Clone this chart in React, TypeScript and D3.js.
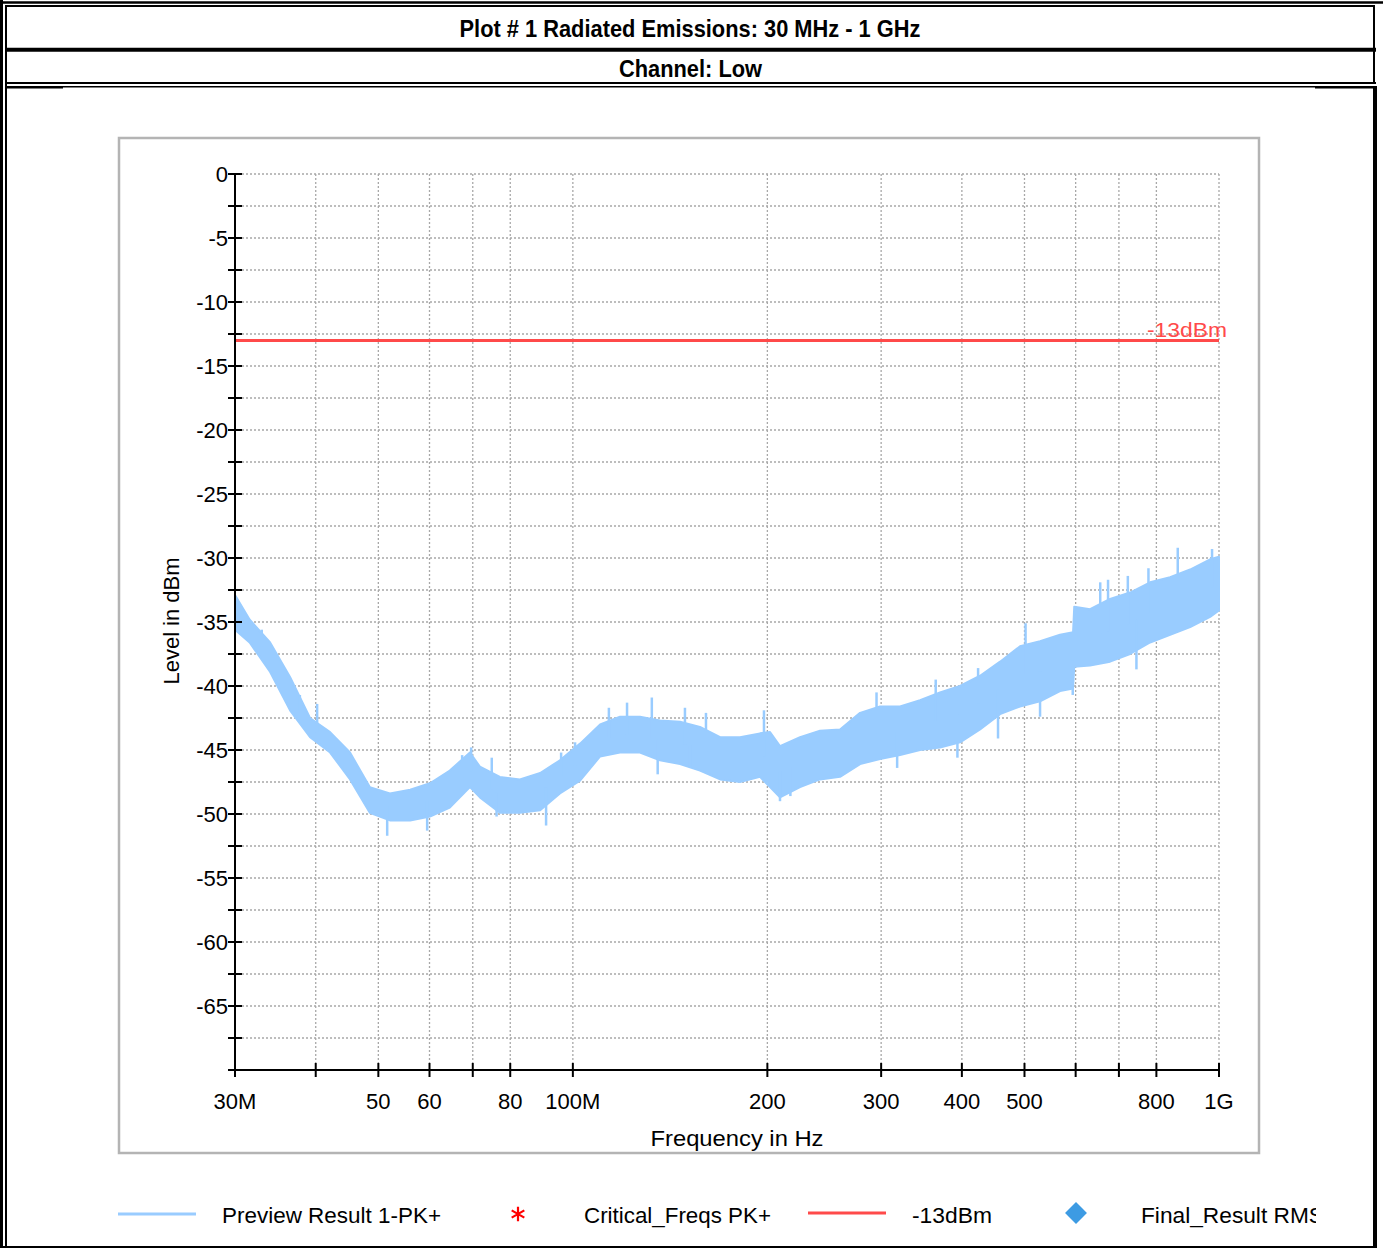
import React from "react";
import * as d3 from "d3";

// envelope of the Preview Result 1-PK+ trace
const freqMHz = [30, 31.6, 34, 36.5, 39.2, 42.1, 45.2, 48.5, 52.1, 56, 60.1, 64.5, 69.3, 71.8, 77.1, 82.8, 89, 95.5, 102.6, 110.2, 118.3, 127, 136.4, 146.5, 157.3, 169, 181.4, 194.8, 201.9, 209.2, 224.7, 241.3, 259.1, 278.3, 298.8, 320.9, 344.6, 370, 397.4, 426.8, 458.3, 492.1, 528.5, 567.5, 594.5, 597, 631.6, 678.3, 728.4, 782.3, 840.1, 902.2, 968.8, 1000];
const upperDbm = [-32.9, -34.8, -36.6, -39.3, -42.5, -43.6, -45.2, -47.9, -48.4, -48.1, -47.6, -46.6, -45.2, -46.3, -47.1, -47.3, -46.8, -45.8, -44.5, -43, -42.4, -42.4, -42.7, -42.8, -43.2, -44, -44, -43.7, -43.6, -44.7, -44, -43.5, -43.4, -42.1, -41.6, -41.6, -41.1, -40.5, -40, -39.2, -38.1, -36.9, -36.5, -36, -35.8, -33.8, -34, -33.2, -32.7, -31.9, -31.5, -30.9, -30.1, -29.9];
const lowerDbm = [-35.6, -36.6, -38.9, -41.9, -44, -45.2, -47.3, -49.9, -50.5, -50.5, -50.2, -49.5, -47.9, -48.7, -49.9, -49.9, -49.7, -48.4, -47.4, -45.5, -45.2, -45.2, -45.8, -46.1, -46.6, -47.3, -47.5, -47.1, -47.9, -48.7, -47.9, -47.3, -47.1, -46.1, -45.7, -45.4, -45, -44.8, -44.4, -43.4, -42.2, -41.6, -41.2, -40.4, -40.2, -38.5, -38.4, -38.1, -37.5, -36.6, -36, -35.4, -34.6, -34.1];

// single peaks sticking out of the band
const spikeMHz = [33, 37.8, 40.2, 51.6, 59.5, 67.4, 69.6, 74.9, 76.2, 90.9, 95.9, 100.8, 113.7, 121.3, 132.5, 135.3, 149.1, 151.8, 160.7, 197.6, 209.2, 217.1, 295.1, 317.6, 364.4, 393.7, 423.8, 455, 501.9, 528.5, 593.8, 654.9, 673.4, 722.6, 745.1, 777.7, 863.3, 975.5];
const spikeDbm = [-35.6, -40.7, -41.4, -51.7, -51.3, -45.4, -44.8, -45.6, -50.2, -50.9, -45.2, -44.4, -41.7, -41.3, -40.9, -46.9, -41.7, -46.3, -42.1, -41.9, -49, -48.6, -40.5, -46.4, -39.5, -45.6, -38.6, -44.1, -35.1, -42.4, -40.7, -31.9, -31.7, -31.4, -38.7, -30.8, -29.2, -29.3];

const limitDbm = -13;

const xTickMHz = [30, 40, 50, 60, 70, 80, 100, 200, 300, 400, 500, 600, 700, 800, 1000];
const xLabelMHz = [30, 50, 60, 80, 100, 200, 300, 400, 500, 800, 1000];
const xLabelText = ["30M", "50", "60", "80", "100M", "200", "300", "400", "500", "800", "1G"];
const yTicks = d3.range(0, -70.1, -2.5);
const yLabels = d3.range(0, -65.1, -5);

const legendNames = ["Preview Result 1-PK+", "Critical_Freqs PK+", "-13dBm", "Final_Result RMS"];

const W = 1383;
const H = 1249;
const font = "'Liberation Sans', Arial, sans-serif";

const App = () => {
  const x = d3.scaleLog().domain([30, 1000]).range([235, 1219]);
  const y = d3.scaleLinear().domain([-70, 0]).range([1070, 174]);

  const band = d3
    .area<number>()
    .x((d, i) => x(freqMHz[i]))
    .y0((d, i) => y(lowerDbm[i]))
    .y1((d, i) => y(upperDbm[i]));

  const mid = d3
    .scaleLog()
    .domain(freqMHz)
    .range(freqMHz.map((f, i) => (upperDbm[i] + lowerDbm[i]) / 2));

  const asterisk = d3.symbol().type(d3.symbolAsterisk).size(150)();
  const square = d3.symbol().type(d3.symbolSquare).size(240)();

  return (
    <svg width={W} height={H} style={{ position: "absolute", left: 0, top: 0, background: "#fff" }}>
      <defs>
        <clipPath id="legclip">
          <rect x={0} y={1180} width={1316} height={60} />
        </clipPath>
      </defs>

      {/* frame */}
      <line x1={0} y1={2.5} x2={W} y2={2.5} stroke="#000" strokeWidth={2.5} />
      <line x1={5} y1={6} x2={1375} y2={6} stroke="#000" strokeWidth={2} />
      <line x1={1.5} y1={0} x2={1.5} y2={1248} stroke="#000" strokeWidth={3} />
      <line x1={6} y1={5} x2={6} y2={1248} stroke="#000" strokeWidth={2} />
      <line x1={1374} y1={5} x2={1374} y2={84} stroke="#000" strokeWidth={2} />
      <line x1={1375} y1={86} x2={1375} y2={1248} stroke="#000" strokeWidth={4} />
      <line x1={5} y1={49.7} x2={1376} y2={49.7} stroke="#000" strokeWidth={4} />
      <line x1={5} y1={83} x2={1376} y2={83} stroke="#000" strokeWidth={2} />
      <line x1={5} y1={86.8} x2={1376} y2={86.8} stroke="#000" strokeWidth={1.5} />
      <line x1={5} y1={87.2} x2={63} y2={87.2} stroke="#000" strokeWidth={2.4} />
      <line x1={1315} y1={87.2} x2={1376} y2={87.2} stroke="#000" strokeWidth={2.4} />
      <line x1={0} y1={1247} x2={1377} y2={1247} stroke="#000" strokeWidth={2} />

      <text x={690} y={37} textAnchor="middle" fontFamily="'Liberation Sans Narrow', 'Arial Narrow', 'Liberation Sans', sans-serif" fontWeight="bold" fontSize={24} textLength={461} lengthAdjust="spacingAndGlyphs">
        Plot # 1 Radiated Emissions: 30 MHz - 1 GHz
      </text>
      <text x={690.5} y={77} textAnchor="middle" fontFamily="'Liberation Sans Narrow', 'Arial Narrow', 'Liberation Sans', sans-serif" fontWeight="bold" fontSize={24} textLength={143} lengthAdjust="spacingAndGlyphs">
        Channel: Low
      </text>

      {/* chart panel */}
      <rect x={119} y={138} width={1140} height={1015} fill="#fff" stroke="#b4b4b4" strokeWidth={2.5} />

      {/* grid */}
      <g stroke="#a8a8a8" strokeWidth={1.3} strokeDasharray="2,2">
        {yTicks.slice(0, -1).map(t => (
          <line key={"gy" + t} x1={242} x2={1219} y1={y(t)} y2={y(t)} />
        ))}
        {xTickMHz.slice(1).map(f => (
          <line key={"gx" + f} x1={x(f)} x2={x(f)} y1={174} y2={1063} />
        ))}
      </g>

      {/* trace */}
      <path d={band(freqMHz) || ""} fill="#99ccff" stroke="#99ccff" strokeWidth={2} strokeLinejoin="round" />
      <g stroke="#99ccff" strokeWidth={2.5}>
        {spikeMHz.map((f, i) => (
          <line key={"sp" + i} x1={x(f)} x2={x(f)} y1={y(mid(f))} y2={y(spikeDbm[i])} />
        ))}
      </g>

      {/* limit */}
      <line x1={x(30)} x2={x(1000)} y1={y(limitDbm)} y2={y(limitDbm)} stroke="#ff4a4a" strokeWidth={3} />
      <text x={1227} y={y(limitDbm) - 3} textAnchor="end" fontFamily={font} fontSize={21} fill="#ff4a4a" textLength={80} lengthAdjust="spacingAndGlyphs">
        -13dBm
      </text>

      {/* axes */}
      <g stroke="#000" strokeWidth={2}>
        <line x1={235} x2={235} y1={173} y2={1071} />
        <line x1={234} x2={1220} y1={1070} y2={1070} />
        {yTicks.map(t => (
          <line key={"ty" + t} x1={228} x2={242} y1={y(t)} y2={y(t)} />
        ))}
        {xTickMHz.map(f => (
          <line key={"tx" + f} x1={x(f)} x2={x(f)} y1={1063} y2={1077} />
        ))}
      </g>
      <g fontFamily={font} fontSize={22} fill="#000">
        {yLabels.map(t => (
          <text key={"ly" + t} x={228} y={y(t) + 8} textAnchor="end">
            {t}
          </text>
        ))}
        {xLabelMHz.map((f, i) => (
          <text key={"lx" + f} x={x(f)} y={1109} textAnchor="middle">
            {xLabelText[i]}
          </text>
        ))}
        <text x={737} y={1146} textAnchor="middle" textLength={173} lengthAdjust="spacingAndGlyphs">
          Frequency in Hz
        </text>
        <text transform="translate(179,621) rotate(-90)" textAnchor="middle" textLength={127} lengthAdjust="spacingAndGlyphs">
          Level in dBm
        </text>
      </g>

      {/* legend */}
      <g clipPath="url(#legclip)" fontFamily={font} fontSize={22} fill="#000">
        <line x1={118} x2={196} y1={1214} y2={1214} stroke="#99ccff" strokeWidth={3} />
        <text x={222} y={1223} textLength={219} lengthAdjust="spacingAndGlyphs">{legendNames[0]}</text>
        <path d={asterisk || ""} transform="translate(518,1214)" stroke="#ff0000" strokeWidth={2.2} fill="none" />
        <text x={584} y={1223} textLength={187} lengthAdjust="spacingAndGlyphs">{legendNames[1]}</text>
        <line x1={808} x2={886} y1={1213} y2={1213} stroke="#ff4a4a" strokeWidth={3} />
        <text x={912} y={1223} textLength={80} lengthAdjust="spacingAndGlyphs">{legendNames[2]}</text>
        <path d={square || ""} transform="translate(1076,1213) rotate(45)" fill="#3d9be3" />
        <text x={1141} y={1223} textLength={183} lengthAdjust="spacingAndGlyphs">{legendNames[3]}</text>
      </g>
    </svg>
  );
};

export default App;
